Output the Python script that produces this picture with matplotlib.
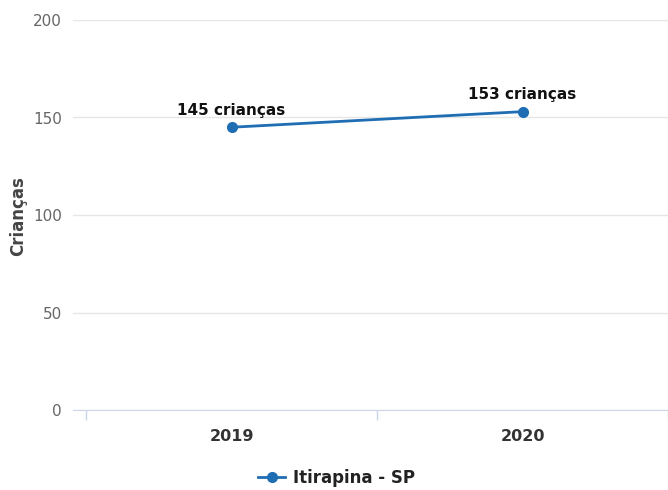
import matplotlib.pyplot as plt

anos = ["2019", "2020"]
criancas = [145, 153]
rotulos = ["145 crianças", "153 crianças"]
y_ticks = [0, 50, 100, 150, 200]
serie = "Itirapina - SP"

cor = "#1f6db3"

plt.rcParams['font.family'] = ['DejaVu Sans']

fig = plt.figure(figsize=(6.68, 4.9), dpi=100)
ax = fig.add_axes([73 / 668, 1 - 410 / 490, 1 - 73 / 668, (410 - 20) / 490])

x = list(range(len(anos)))
ax.plot(x, criancas, color=cor, lw=2, marker='o', ms=7, label=serie, zorder=3)

for xi, yi, txt in zip(x, criancas, rotulos):
    ax.annotate(txt, (xi, yi), xytext=(0, 12), textcoords='offset points',
                ha='center', va='center', fontsize=11, fontweight='bold', color='#111111')

ax.set_xlim(-0.545, 1.47)
ax.set_ylim(0, 200)
ax.set_yticks(y_ticks)
ax.set_xticks(x)
ax.set_xticklabels(anos, fontsize=11.5, fontweight='bold', color='#333333')
ax.set_xticks([-0.5, 0.5, 1.5], minor=True)
ax.tick_params(axis='x', which='major', length=0, pad=14)
ax.tick_params(axis='x', which='minor', length=7, color='#ccd6eb', width=1)
ax.tick_params(axis='y', length=0, pad=8, labelsize=11, labelcolor='#666666')

ax.grid(axis='y', color='#e6e6e6', lw=1)
ax.set_axisbelow(True)
for s in ['top', 'right', 'left']:
    ax.spines[s].set_visible(False)
ax.spines['bottom'].set_color('#ccd6eb')

fig.text(18 / 668, 1 - 216 / 490, "Crianças", rotation=90, ha='center', va='center',
         fontsize=12, fontweight='bold', color='#444444')

fig.legend(loc='center', bbox_to_anchor=(337 / 668, 1 - 478 / 490), frameon=False,
           prop={'size': 12, 'weight': 'bold'}, handlelength=1.6, handletextpad=0.5,
           labelcolor='#222222')

fig.savefig('out.png', dpi=100)
